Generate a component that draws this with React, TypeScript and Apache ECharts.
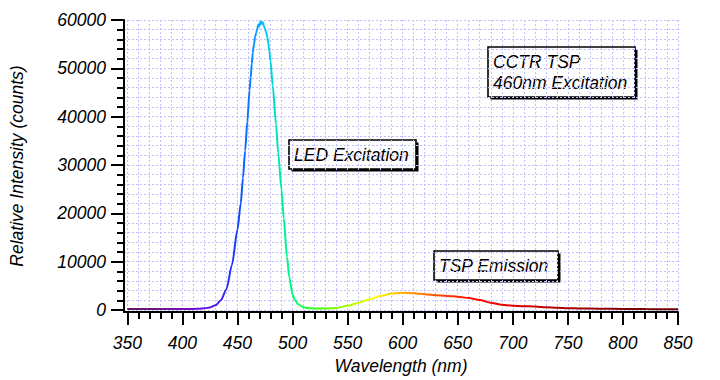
import React, { useEffect, useRef } from "react";
import * as echarts from "echarts";

// Wavelength (nm) and relative intensity (counts)
const wavelengths = [
  350, 360, 370, 380, 390, 400, 410, 415, 420, 425, 430, 435, 440, 445, 450, 453, 455, 457, 459,
  461, 462, 463, 464, 465, 466, 467, 468, 469, 470, 471, 472, 473, 474, 475, 476, 477, 478, 479,
  480, 482, 485, 487, 490, 492, 495, 497, 500, 502, 505, 510, 515, 520, 530, 540, 550, 560, 570,
  580, 590, 600, 610, 620, 630, 640, 650, 660, 670, 680, 690, 700, 710, 720, 730, 740, 750, 760,
  780, 800, 820, 850,
];
const intensities = [
  180, 180, 170, 170, 180, 170, 200, 260, 330, 520, 950, 2000, 4300, 9300, 16600, 22000, 27300,
  33000, 39000, 45500, 48000, 51000, 53200, 55000, 56500, 57300, 58200, 59100, 58700, 59700, 59200,
  59600, 58700, 58200, 57500, 56600, 55200, 53500, 51500, 46500, 38500, 32500, 24900, 19000, 11000,
  6800, 3200, 2100, 1200, 550, 350, 300, 290, 400, 850, 1500, 2200, 2900, 3400, 3550, 3450, 3250,
  3050, 2900, 2750, 2450, 2050, 1500, 1050, 880, 780, 700, 560, 450, 360, 300, 240, 200, 170, 150,
];

const xMajorTicks = [350, 400, 450, 500, 550, 600, 650, 700, 750, 800, 850];
const xMinorTicks = Array.from({ length: 51 }, (_, i) => 350 + i * 10);
const yMajorTicks = [0, 10000, 20000, 30000, 40000, 50000, 60000];
const yMinorTicks = Array.from({ length: 31 }, (_, i) => i * 2000);

const xTitle = "Wavelength (nm)";
const yTitle = "Relative Intensity (counts)";
const noteTop = "CCTR TSP\n460nm Excitation";
const noteLED = "LED Excitation";
const noteTSP = "TSP Emission";

const spectrumColors = [
  "#5c1a5c", "#6a1a80", "#7a10b0", "#5a10f0", "#1040ff", "#00c8ff", "#00ff70", "#40ff00",
  "#a8ff00", "#ffff00", "#ffb000", "#ff6000", "#ff2000", "#ff0000", "#e00000", "#c00000",
  "#a80000", "#960000", "#840000", "#740000", "#640000",
];

const FONT = '"Liberation Sans", Arial, sans-serif';
const FS = 17.5;

function note(x: number, y: number, w: number, h: number, text: string) {
  return {
    type: "group",
    x,
    y,
    children: [
      { type: "rect", shape: { x: 2.5, y: 2.5, width: w, height: h }, style: { fill: "#000" } },
      {
        type: "rect",
        shape: { x: 0, y: 0, width: w, height: h },
        style: { fill: "#fff", stroke: "#000", lineWidth: 1.6 },
      },
      {
        type: "text",
        x: 5,
        y: h / 2 + 0.5,
        style: {
          text,
          fill: "#000",
          fontSize: FS,
          fontStyle: "italic",
          fontFamily: FONT,
          lineHeight: 21,
          verticalAlign: "middle",
          align: "left",
        },
      },
    ],
  };
}

export default function App() {
  const ref = useRef<HTMLDivElement>(null);
  useEffect(() => {
    document.body.style.margin = "0";
    if (!ref.current) return;
    const chart = echarts.init(ref.current, null, { renderer: "svg" });
    const labelStyle = {
      color: "#000",
      fontSize: FS,
      fontStyle: "italic" as const,
      fontFamily: FONT,
    };
    const gridLine = { color: "#c0c0ff", width: 1, type: [2, 2] };
    const fmt = (v: number) => String(Math.round(v));
    const xMin = 347;
    const xMax = 850;
    const yMin = -450;
    const yMax = 60000;
    chart.setOption({
      animation: false,
      backgroundColor: "#fff",
      textStyle: { fontFamily: FONT, fontStyle: "italic", fontSize: FS, color: "#000" },
      grid: { left: 117, right: 42, top: 20, bottom: 67, containLabel: false },
      xAxis: [
        {
          type: "value",
          position: "bottom",
          min: xMin,
          max: xMax,
          name: xTitle,
          nameLocation: "middle",
          nameGap: 40,
          nameTextStyle: labelStyle,
          axisLine: { show: true, onZero: false, lineStyle: { color: "#000", width: 2 } },
          axisTick: { show: true, length: 13, customValues: xMajorTicks, lineStyle: { color: "#000", width: 2 } },
          axisLabel: {
            show: true,
            margin: 22,
            customValues: xMajorTicks,
            formatter: fmt,
            ...labelStyle,
          },
          splitLine: { show: false },
        },
        {
          type: "value",
          position: "bottom",
          min: xMin,
          max: xMax,
          axisLine: { show: false, onZero: false },
          axisTick: { show: true, length: 7, customValues: xMinorTicks, lineStyle: { color: "#000", width: 2 } },
          axisLabel: { show: false },
          splitLine: { show: true, lineStyle: gridLine },
        },
      ],
      yAxis: [
        {
          type: "value",
          position: "left",
          min: yMin,
          max: yMax,
          name: yTitle,
          nameLocation: "middle",
          nameGap: 98,
          nameTextStyle: labelStyle,
          axisLine: { show: true, onZero: false, lineStyle: { color: "#000", width: 2 } },
          axisTick: { show: true, length: 13, customValues: yMajorTicks, lineStyle: { color: "#000", width: 2 } },
          axisLabel: {
            show: true,
            margin: 18,
            customValues: yMajorTicks,
            formatter: fmt,
            ...labelStyle,
          },
          splitLine: { show: false },
        },
        {
          type: "value",
          position: "left",
          min: yMin,
          max: yMax,
          axisLine: { show: false, onZero: false },
          axisTick: { show: true, length: 7, customValues: yMinorTicks, lineStyle: { color: "#000", width: 2 } },
          axisLabel: { show: false },
          splitLine: { show: true, lineStyle: gridLine },
        },
      ],
      visualMap: {
        type: "continuous",
        show: false,
        dimension: 0,
        seriesIndex: 0,
        min: 350,
        max: 850,
        inRange: { color: spectrumColors },
      },
      series: [
        {
          type: "line",
          xAxisIndex: 0,
          yAxisIndex: 0,
          data: wavelengths.map((w, i) => [w, intensities[i]]),
          showSymbol: false,
          symbol: "none",
          smooth: 0.25,
          smoothMonotone: "x",
          lineStyle: { width: 2 },
          z: 5,
        },
      ],
      graphic: [
        note(488, 47, 147, 50, noteTop),
        note(289, 140, 127, 29, noteLED),
        note(434, 251, 124, 29, noteTSP),
      ],
    });
    return () => chart.dispose();
  }, []);
  return <div ref={ref} style={{ width: 720, height: 380 }} />;
}
